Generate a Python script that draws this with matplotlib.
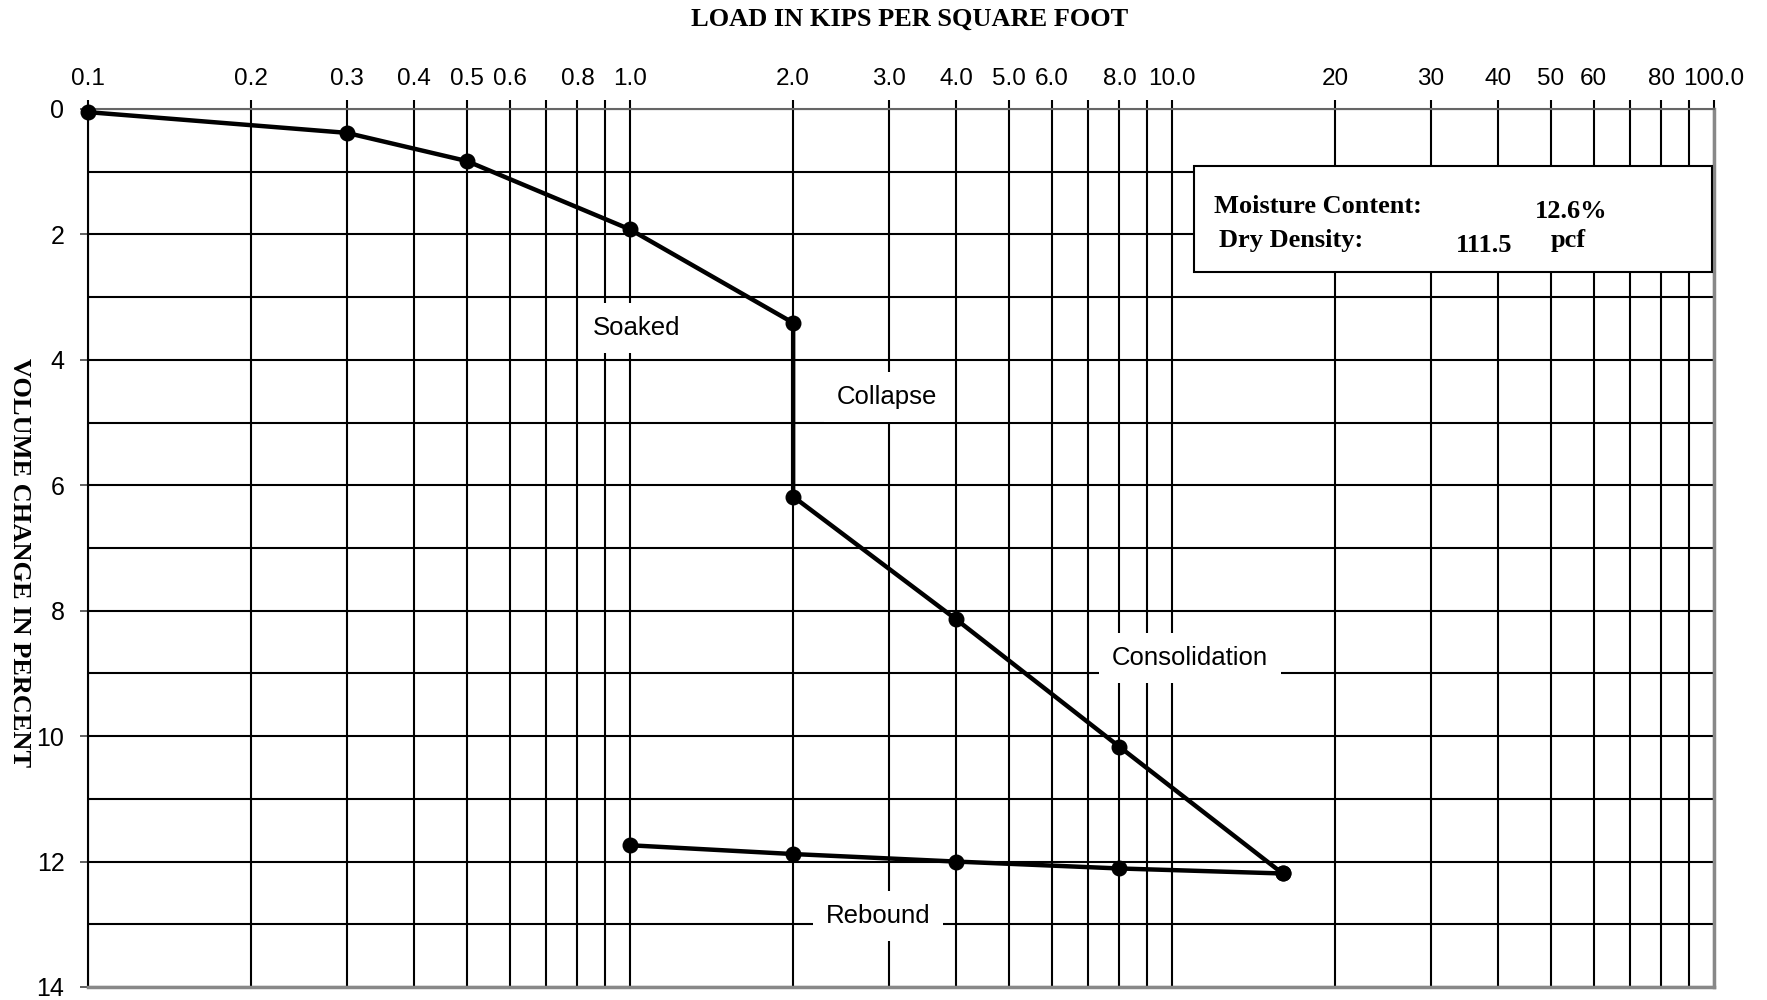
import numpy as np
import matplotlib
matplotlib.use('Agg')
import matplotlib.pyplot as plt
from matplotlib.ticker import FixedLocator, FixedFormatter, LogLocator, MultipleLocator, NullFormatter
from matplotlib.patches import Rectangle

plt.rcParams['font.family'] = ['Liberation Sans', 'DejaVu Sans']

#%% data
load_ksf = [0.1, 0.3, 0.5, 1.0, 2.0, 2.0, 4.0, 8.0, 16.0]
volume_change = [0.05, 0.38, 0.83, 1.92, 3.41, 6.18, 8.14, 10.17, 12.19]

rebound_load = [16.0, 8.0, 4.0, 2.0, 1.0]
rebound_change = [12.19, 12.11, 12.0, 11.88, 11.74]

tick_values = [0.1, 0.2, 0.3, 0.4, 0.5, 0.6, 0.8, 1.0, 2.0, 3.0, 4.0, 5.0, 6.0, 8.0,
               10.0, 20, 30, 40, 50, 60, 80, 100.0]
tick_labels = ['0.1', '0.2', '0.3', '0.4', '0.5', '0.6', '0.8', '1.0', '2.0', '3.0', '4.0',
               '5.0', '6.0', '8.0', '10.0', '20', '30', '40', '50', '60', '80', '100.0']

moisture_content = '12.6%'
dry_density = '111.5'

#%%
fig = plt.figure(figsize=(17.67, 10), dpi=100)
ax = fig.add_axes([0.0498, 0.013, 0.9202, 0.878])

ax.plot(load_ksf, volume_change, '-', color='black', lw=3.2, marker='o', ms=10.5, zorder=4, clip_on=False)
ax.plot(rebound_load, rebound_change, '-', color='black', lw=3.2, marker='o', ms=10.5, zorder=4, clip_on=False)

ax.set_xscale('log')
ax.set_xlim(0.1, 100)
ax.set_ylim(14, 0)

ax.xaxis.tick_top()
ax.xaxis.set_major_locator(FixedLocator(tick_values))
ax.xaxis.set_major_formatter(FixedFormatter(tick_labels))
ax.xaxis.set_minor_locator(LogLocator(base=10, subs=np.arange(2, 10), numticks=20))
ax.xaxis.set_minor_formatter(NullFormatter())
ax.tick_params(axis='x', which='both', top=True, bottom=False, direction='out',
               length=6.5, width=1.5, color='black', pad=7, labelsize=17.5)

ax.yaxis.set_major_locator(MultipleLocator(2))
ax.yaxis.set_minor_locator(MultipleLocator(1))
ax.tick_params(axis='y', which='major', left=True, direction='out', length=6, width=1.2,
               color='#444444', pad=11, labelsize=18)
ax.tick_params(axis='y', which='minor', length=0)

ax.set_axisbelow(True)
ax.grid(True, which='both', color='black', lw=1.5)

ax.spines['left'].set_color('black')
ax.spines['left'].set_linewidth(1.5)
for s in ['bottom', 'right']:
    ax.spines[s].set_color('#888888')
    ax.spines[s].set_linewidth(2.5)
ax.spines['top'].set_color('#666666')
ax.spines['top'].set_linewidth(1.5)

# phase labels, white boxes knock out the grid
box = dict(facecolor='white', edgecolor='none', boxstyle='square,pad=0.5')
ax.text(0.3376, 0.7506, 'Soaked', transform=ax.transAxes, fontsize=18.5, ha='center', va='center', bbox=box, zorder=3)
ax.text(0.4914, 0.672, 'Collapse', transform=ax.transAxes, fontsize=18.5, ha='center', va='center', bbox=box, zorder=3)
ax.text(0.6777, 0.3747, 'Consolidation', transform=ax.transAxes, fontsize=18.5, ha='center', va='center', bbox=box, zorder=3)
ax.text(0.4858, 0.081, 'Rebound', transform=ax.transAxes, fontsize=18.5, ha='center', va='center', bbox=box, zorder=3)

# sample info box
ax.add_patch(Rectangle((0.680, 0.814), 0.3186, 0.121, transform=ax.transAxes,
                       facecolor='white', edgecolor='black', lw=1.5, zorder=5))
info = dict(transform=ax.transAxes, fontsize=19, fontweight='bold', family='Liberation Serif',
            va='center', zorder=6)
ax.text(0.6925, 0.8895, 'Moisture Content:', **info)
ax.text(0.890, 0.8827, moisture_content, **info)
ax.text(0.6956, 0.8497, 'Dry Density:', **info)
ax.text(0.8413, 0.845, dry_density, **info)
ax.text(0.8998, 0.8497, 'pcf', **info)

fig.text(0.5147, 0.981, 'LOAD IN KIPS PER SQUARE FOOT', ha='center', va='center',
         fontsize=19, fontweight='bold', family='Liberation Serif')
fig.text(0.0113, 0.437, 'VOLUME CHANGE IN PERCENT', ha='center', va='center', rotation=270,
         fontsize=19, fontweight='bold', family='Liberation Serif')

fig.savefig('out.png', dpi=100)
